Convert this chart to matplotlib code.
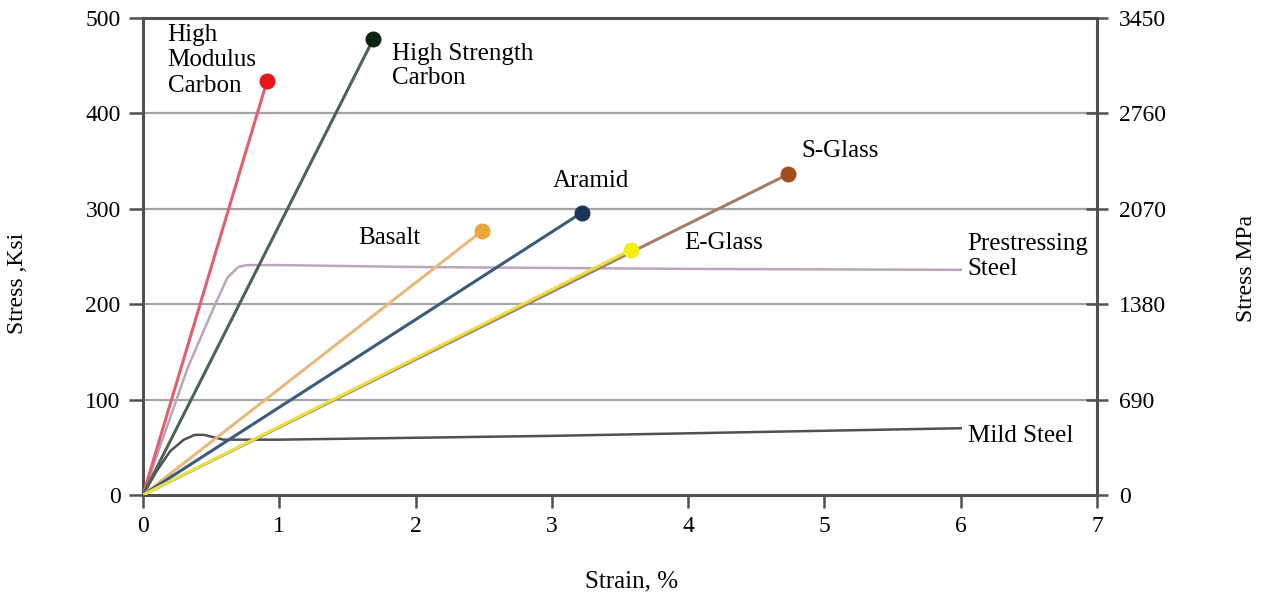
import matplotlib
matplotlib.use("Agg")
import matplotlib.pyplot as plt

plt.rcParams['font.family'] = ['Liberation Serif', 'DejaVu Serif']

# Linear-elastic fibres: ultimate strain (%) and ultimate stress (ksi)
fibre_names = ["High Modulus Carbon", "High Strength Carbon", "Basalt",
               "Aramid", "S-Glass", "E-Glass"]
fibre_strain = [0.91, 1.69, 2.49, 3.22, 4.73, 3.58]
fibre_stress = [434, 478, 277, 296, 336, 257]
fibre_line_colors = ["#e2606e", "#4c6452", "#e8b97c", "#3c5a7c", "#a87c64", "#e6e244"]
fibre_marker_colors = ["#e8141e", "#0e2412", "#eaa63a", "#1c3458", "#a44c1c", "#f2ee12"]

# Steels: full stress-strain curves
prestress_strain = [0, 0.33, 0.53, 0.62, 0.70, 0.76, 1.0, 2.0, 4.0, 6.0]
prestress_stress = [0, 134, 200, 228, 239, 241, 241, 239, 237, 236]
mild_strain = [0, 0.1, 0.2, 0.3, 0.38, 0.45, 0.59, 1.0, 3.0, 6.0]
mild_stress = [0, 25, 46, 58, 63, 63, 58, 58, 62, 70]

x_ticks = [0, 1, 2, 3, 4, 5, 6, 7]
ksi_ticks = [0, 100, 200, 300, 400, 500]
mpa_ticks = [0, 690, 1380, 2070, 2760, 3450]

fig = plt.figure(figsize=(12.63, 6.0), dpi=100)
ax = fig.add_axes([0.1132, 0.175, 0.7554, 0.795])

ax.set_xlim(0, 7)
ax.set_ylim(0, 500)

# horizontal grid
for v in ksi_ticks[1:-1]:
    ax.axhline(v, color="#a4a4a4", lw=1.6, zorder=0)
ax.axhline(500, color="#505050", lw=2.2, zorder=0.5, clip_on=False)

# steels
ax.plot(prestress_strain, prestress_stress, color="#bca4bc", lw=1.8, zorder=2)
ax.plot(mild_strain, mild_stress, color="#505050", lw=1.8, zorder=2)

# fibres (E-Glass drawn over S-Glass)
for i in range(len(fibre_names)):
    ax.plot([0, fibre_strain[i]], [0, fibre_stress[i]], color=fibre_line_colors[i],
            lw=2.2, zorder=3 + i * 0.1, solid_capstyle="round")
for i in range(len(fibre_names)):
    ax.plot(fibre_strain[i], fibre_stress[i], "o", ms=10.5,
            color=fibre_marker_colors[i], mec=fibre_marker_colors[i], zorder=5)

fs = 18
ax.text(0.18, 494, "High\nModulus\nCarbon", fontsize=fs, va="top", ha="left", linespacing=1.22)
ax.text(1.83, 474, "High Strength\nCarbon", fontsize=fs, va="top", ha="left", linespacing=1.15)
ax.text(1.58, 269, "Basalt", fontsize=fs, va="center", ha="left")
ax.text(3.01, 329, "Aramid", fontsize=fs, va="center", ha="left")
ax.text(4.83, 361, "S-Glass", fontsize=fs, va="center", ha="left")
ax.text(3.97, 264, "E-Glass", fontsize=fs, va="center", ha="left")
ax.text(6.05, 250, "Prestressing\nSteel", fontsize=fs, va="center", ha="left", linespacing=1.15)
ax.text(6.05, 62, "Mild Steel", fontsize=fs, va="center", ha="left")

# spines
for side in ["left", "bottom", "right"]:
    ax.spines[side].set_color("#505050")
    ax.spines[side].set_linewidth(2.2)
ax.spines["top"].set_visible(False)

ax.set_xticks(x_ticks)
ax.set_yticks(ksi_ticks)
ax.tick_params(axis="x", direction="out", length=9, width=1.8, color="#505050",
               labelsize=17, pad=6)
ax.tick_params(axis="y", direction="out", length=10, width=1.8, color="#505050",
               labelsize=17, pad=6)

sec = ax.secondary_yaxis("right", functions=(lambda k: k * 6.9, lambda m: m / 6.9))
sec.set_yticks(mpa_ticks)
sec.spines["right"].set_visible(False)
sec.tick_params(direction="inout", length=16, width=1.8, color="#505050",
                labelsize=17, pad=8)

# axis titles
fig.text(18 / 1263, 1 - 283 / 600, "Stress ,Ksi", rotation=90, fontsize=17,
         ha="center", va="center")
fig.text(1247 / 1263, 1 - 268 / 600, "Stress MPa", rotation=90, fontsize=17,
         ha="center", va="center")
fig.text(632 / 1263, 1 - 581 / 600, "Strain, %", fontsize=18,
         ha="center", va="center")

fig.savefig("out.png", dpi=100, facecolor="white")
